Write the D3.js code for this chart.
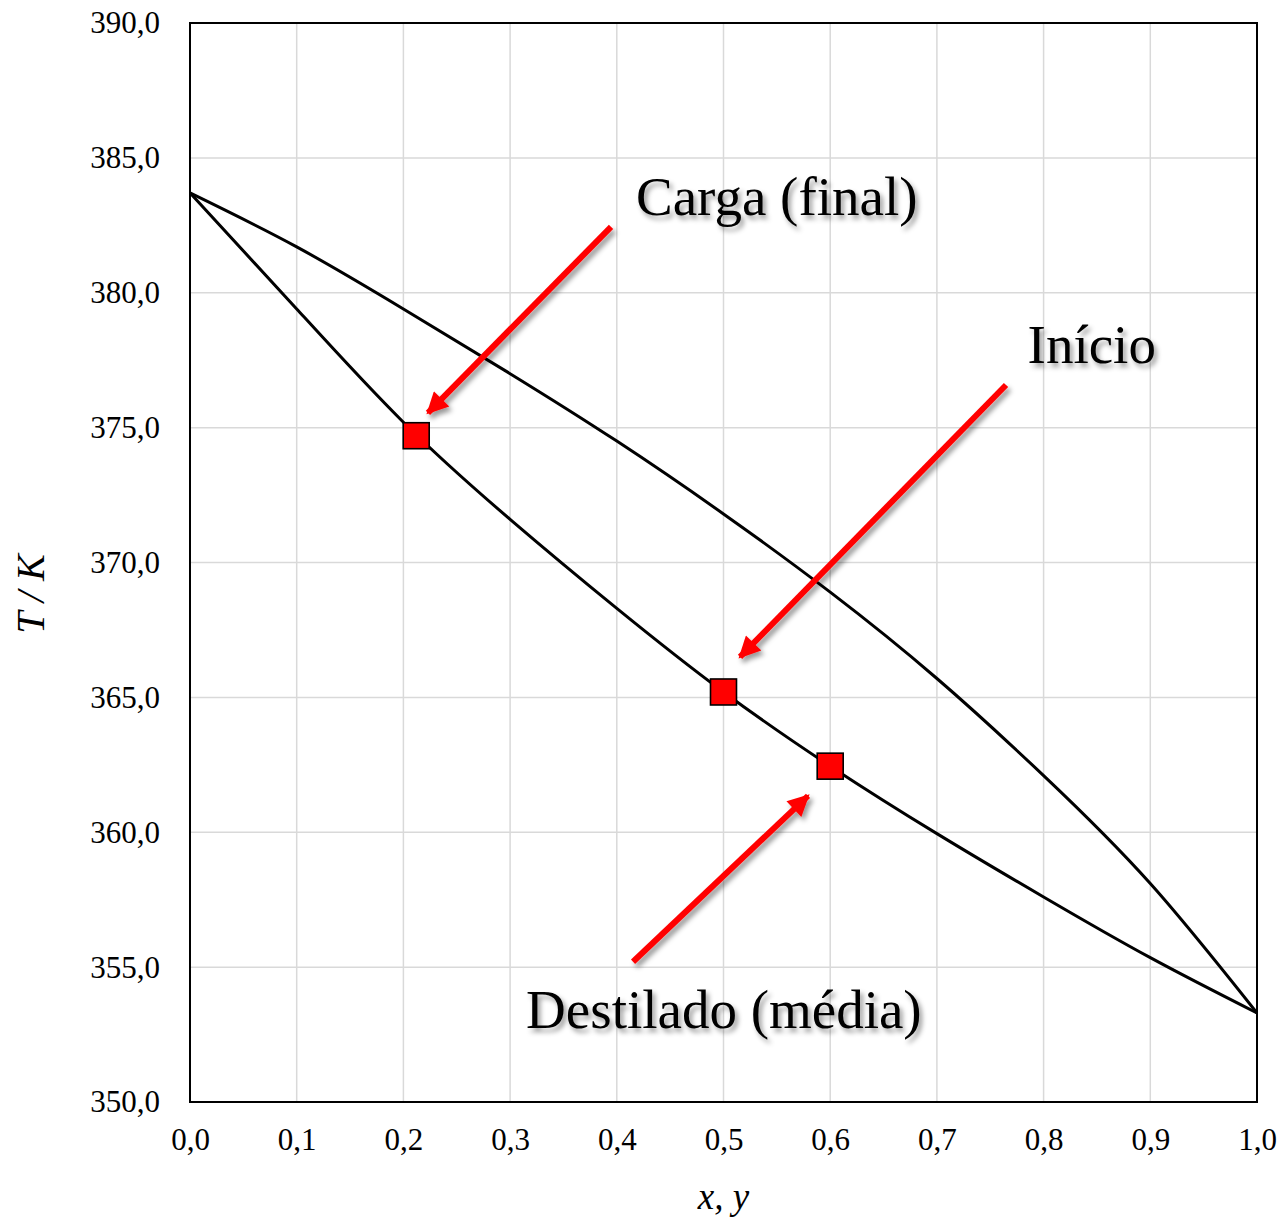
<!DOCTYPE html>
<html>
<head>
<meta charset="utf-8">
<script src="https://cdn.jsdelivr.net/npm/d3@7/dist/d3.min.js"></script>
<style>
  body { margin: 0; background: #fff; }
  text { font-family: "Liberation Serif", "DejaVu Serif", serif; fill: #000; }
</style>
</head>
<body>
<svg id="chart" width="1284" height="1218"></svg>
<script>
// composition grid (x, y)
var comp = [0, 0.1, 0.2, 0.3, 0.4, 0.5, 0.6, 0.7, 0.8, 0.9, 1.0];
// dew curve T(y), upper
var tDew = [383.7, 381.7, 379.4, 377.0, 374.5, 371.8, 368.9, 365.7, 362.1, 358.1, 353.3];
// bubble curve T(x), lower
var tBubble = [383.7, 379.4, 375.2, 371.6, 368.3, 365.2, 362.45, 359.95, 357.6, 355.35, 353.3];

var pointX = [0.212, 0.5, 0.6];
var pointT = [374.7, 365.2, 362.45];

var xTicks = [0, 0.1, 0.2, 0.3, 0.4, 0.5, 0.6, 0.7, 0.8, 0.9, 1.0];
var yTicks = [350, 355, 360, 365, 370, 375, 380, 385, 390];

// annotation arrows, in data units: [x0, T0, x1, T1]
var arrows = [
  [0.3946, 382.44, 0.223, 375.55],
  [0.7648, 376.58, 0.5155, 366.5],
  [0.4152, 355.2, 0.5792, 361.35]
];
var labels = ["Carga (final)", "Início", "Destilado (média)"];
var labelPos = [[0.418, 382.9], [0.785, 377.4], [0.315, 352.75]];

var margin = {left: 190, top: 23},
    width = 1067,
    height = 1079;

var svg = d3.select("#chart");

var defs = svg.append("defs");
var shadow = defs.append("filter").attr("id", "shadow")
    .attr("x", "-20%").attr("y", "-20%").attr("width", "150%").attr("height", "150%");
shadow.append("feDropShadow")
    .attr("dx", 3).attr("dy", 4).attr("stdDeviation", 2.8)
    .attr("flood-color", "#000").attr("flood-opacity", 0.4);

defs.append("marker").attr("id", "head")
    .attr("viewBox", "0 0 10 10")
    .attr("refX", 9).attr("refY", 5)
    .attr("markerWidth", 4.2).attr("markerHeight", 3.6)
    .attr("markerUnits", "strokeWidth")
    .attr("orient", "auto")
  .append("path").attr("d", "M0,0 L10,5 L0,10 z").attr("fill", "#ff0000");

var g = svg.append("g").attr("transform", "translate(" + margin.left + "," + margin.top + ")");

var x = d3.scaleLinear().domain([0, 1]).range([0, width]);
var y = d3.scaleLinear().domain([350, 390]).range([height, 0]);

// gridlines
g.append("g").selectAll("line").data(xTicks).enter().append("line")
    .attr("x1", function(d) { return x(d); }).attr("x2", function(d) { return x(d); })
    .attr("y1", 0).attr("y2", height)
    .attr("stroke", "#d9d9d9").attr("stroke-width", 1.5);
g.append("g").selectAll("line").data(yTicks).enter().append("line")
    .attr("y1", function(d) { return y(d); }).attr("y2", function(d) { return y(d); })
    .attr("x1", 0).attr("x2", width)
    .attr("stroke", "#d9d9d9").attr("stroke-width", 1.5);

// axes
var fmt = function(n) { return function(d) { return d3.format("." + n + "f")(d).replace(".", ","); }; };

var xAxis = g.append("g").attr("transform", "translate(0," + height + ")")
    .call(d3.axisBottom(x).tickValues(xTicks).tickSize(0).tickPadding(26).tickFormat(fmt(1)));
var yAxis = g.append("g")
    .call(d3.axisLeft(y).tickValues(yTicks).tickSize(0).tickPadding(30).tickFormat(fmt(1)));
[xAxis, yAxis].forEach(function(a) {
  a.select(".domain").remove();
  a.selectAll("text").attr("font-family", "Liberation Serif, serif").attr("font-size", 31).attr("fill", "#000");
});
xAxis.selectAll("text").attr("dy", "0.71em");

// plot frame
g.append("rect").attr("width", width).attr("height", height)
    .attr("fill", "none").attr("stroke", "#000").attr("stroke-width", 2);

// curves
var line = d3.line()
    .x(function(d) { return x(d[0]); })
    .y(function(d) { return y(d[1]); })
    .curve(d3.curveNatural);

[tDew, tBubble].forEach(function(series) {
  g.append("path")
    .datum(comp.map(function(c, i) { return [c, series[i]]; }))
    .attr("d", line)
    .attr("fill", "none").attr("stroke", "#000").attr("stroke-width", 3);
});

// markers
g.append("g").selectAll("rect").data(pointX).enter().append("rect")
    .attr("x", function(d) { return x(d) - 13; })
    .attr("y", function(d, i) { return y(pointT[i]) - 13; })
    .attr("width", 26).attr("height", 26)
    .attr("fill", "#ff0000").attr("stroke", "#000").attr("stroke-width", 1.6);

// arrows
g.append("g").selectAll("line").data(arrows).enter().append("line")
    .attr("x1", function(d) { return x(d[0]); }).attr("y1", function(d) { return y(d[1]); })
    .attr("x2", function(d) { return x(d[2]); }).attr("y2", function(d) { return y(d[3]); })
    .attr("stroke", "#ff0000").attr("stroke-width", 6)
    .attr("marker-end", "url(#head)")
    .attr("filter", "url(#shadow)");

// labels
g.append("g").selectAll("text").data(labels).enter().append("text")
    .attr("x", function(d, i) { return x(labelPos[i][0]); })
    .attr("y", function(d, i) { return y(labelPos[i][1]); })
    .attr("font-size", 55)
    .attr("filter", "url(#shadow)")
    .text(function(d) { return d; });

// axis titles
svg.append("text")
    .attr("x", margin.left + width / 2).attr("y", 1209)
    .attr("text-anchor", "middle")
    .attr("font-size", 37).attr("font-style", "italic")
    .text("x, y");
svg.append("text")
    .attr("transform", "translate(44,594) rotate(-90)")
    .attr("text-anchor", "middle")
    .attr("font-size", 40).attr("font-style", "italic")
    .text("T / K");
</script>
</body>
</html>
